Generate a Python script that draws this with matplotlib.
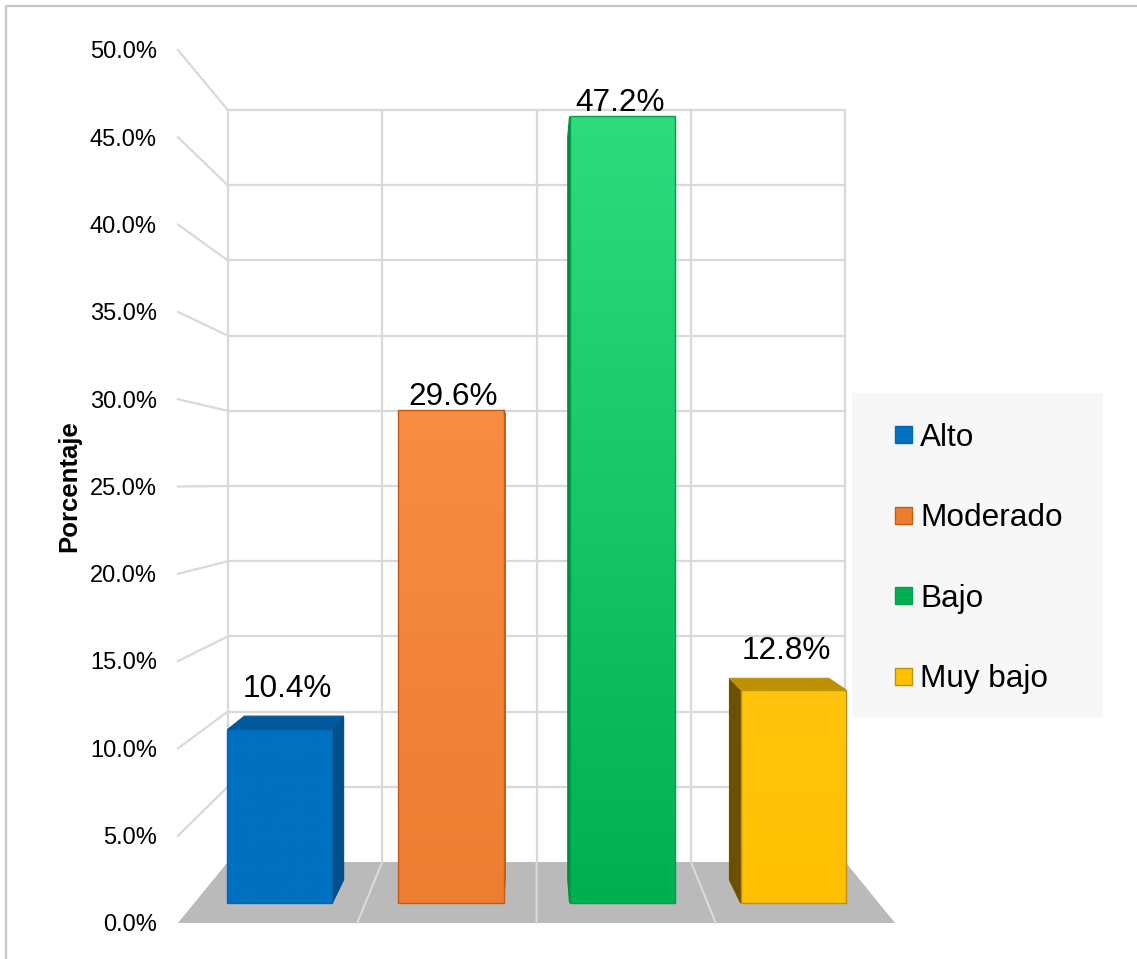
import numpy as np
import matplotlib.pyplot as plt
from matplotlib.patches import Polygon, Rectangle
from matplotlib.colors import to_rgb

categorias = ['Alto', 'Moderado', 'Bajo', 'Muy bajo']
porcentajes = [10.4, 29.6, 47.2, 12.8]
ticks_y = np.arange(0, 50.1, 5)
etiquetas_y = ['%.1f%%' % t for t in ticks_y]

# frente (arriba -> abajo), lado, techo, borde
col_claro = ['#0070C0', '#F78D42', '#2EDC7E', '#FFC40D']
col_base = ['#0070C0', '#ED7D31', '#00B050', '#FFC000']
col_lado = ['#004F88', '#C0621E', '#008A3E', '#6B5000']
col_techo = ['#01589C', '#D06A22', '#009A46', '#BF9000']
col_borde = ['#0068B2', '#C55A11', '#00A046', '#BF9000']

plt.rcParams['font.family'] = ['Liberation Sans', 'DejaVu Sans']

W, H = 1137, 959
fig = plt.figure(figsize=(W / 100, H / 100), dpi=100)
ax = fig.add_axes([0, 0, 1, 1])

# perspectiva sencilla: plano frontal -> pared del fondo
VX, VY = 537.0, 483.0
X0, X1 = 178.0, 895.0
Y0, PX = 923.0, 17.46
K_FONDO = 0.8614
CW = (X1 - X0) / len(categorias)
Z_F, Z_B, HW = 0.328, 0.706, 0.307


def esc(z):
    return 1 - (1 - K_FONDO) * z


def proj(u, v, z):
    xf = X0 + u * CW
    yf = Y0 - PX * v
    s = esc(z)
    return (VX + (xf - VX) * s, VY + (yf - VY) * s)


def cara(pts, color, zo, borde=None, lw=0):
    ax.add_patch(Polygon(pts, closed=True, facecolor=color,
                         edgecolor=borde if borde else color, lw=lw, zorder=zo))


def gradiente(pts, c_arr, c_abj, zo, borde):
    poly = Polygon(pts, closed=True, facecolor='none', edgecolor=borde, lw=1.0, zorder=zo + 0.1)
    ax.add_patch(poly)
    xs, ys = zip(*pts)
    t = np.linspace(0, 1, 256)[:, None]
    img = (np.array(to_rgb(c_arr)) * (1 - t) + np.array(to_rgb(c_abj)) * t)[:, None, :]
    im = ax.imshow(img, extent=(min(xs), max(xs), max(ys), min(ys)),
                   aspect='auto', origin='upper', zorder=zo, interpolation='bilinear')
    im.set_clip_path(poly)


n = len(categorias)
gris = '#D9D9D9'

# pared del fondo
for t in ticks_y[1:]:
    a, b = proj(0, t, 1), proj(n, t, 1)
    ax.plot([a[0], b[0]], [a[1], b[1]], color=gris, lw=1.6, zorder=1)
    f = proj(0, t, 0)
    ax.plot([f[0], a[0]], [f[1], a[1]], color=gris, lw=1.6, zorder=1)
for i in range(n + 1):
    a, b = proj(i, 0, 1), proj(i, ticks_y[-1], 1)
    ax.plot([a[0], b[0]], [a[1], b[1]], color=gris, lw=1.6, zorder=1)

# piso
piso = [proj(0, 0, 0), proj(n, 0, 0), proj(n, 0, 1), proj(0, 0, 1)]
cara(piso, '#BABABA', 2)
for i in range(1, n):
    a, b = proj(i, 0, 1), proj(i, 0, 0)
    ax.plot([a[0], b[0]], [a[1], b[1]], color='#DCDCDC', lw=1.4, zorder=2.5)

# barras
v_ojo = (Y0 - VY) / PX
for i, v in enumerate(porcentajes):
    c = i + 0.5
    zo = 3 + i
    ul, ur = c - HW, c + HW
    if proj(c, 0, Z_F)[0] < VX:
        us = ur
    else:
        us = ul
    lado = [proj(us, 0, Z_F), proj(us, 0, Z_B), proj(us, v, Z_B), proj(us, v, Z_F)]
    cara(lado, col_lado[i], zo, col_lado[i], 0.8)
    if v < v_ojo:
        techo = [proj(ul, v, Z_F), proj(ur, v, Z_F), proj(ur, v, Z_B), proj(ul, v, Z_B)]
        cara(techo, col_techo[i], zo, col_techo[i], 0.8)
    frente = [proj(ul, 0, Z_F), proj(ur, 0, Z_F), proj(ur, v, Z_F), proj(ul, v, Z_F)]
    gradiente(frente, col_claro[i], col_base[i], zo + 0.2, col_borde[i])

    # etiqueta de datos
    lx = proj(c, v, (Z_F + Z_B) / 2)[0]
    if v < v_ojo:
        ly = proj(c, v, Z_B)[1] - 19
    else:
        ly = proj(c, v, Z_F)[1] - 5
    ax.text(lx, ly, '%.1f%%' % v, ha='center', va='baseline', fontsize=22.7,
            color='black', zorder=20)

# etiquetas del eje y
for t, lab in zip(ticks_y, etiquetas_y):
    y = proj(0, t, 0)[1]
    ax.text(157, y + 8.4, lab, ha='right', va='baseline', fontsize=17, color='black')

ax.text(69, 486, 'Porcentaje', rotation=90, ha='center', va='center',
        fontsize=18.5, fontweight='bold', color='black')

# leyenda
ax.add_patch(Rectangle((852, 393), 251, 324, facecolor='#F7F7F7', edgecolor='none', zorder=10))
for i, cat in enumerate(categorias):
    yc = 434.5 + 80.5 * i
    ax.add_patch(Rectangle((895, yc - 8.5), 17, 17, facecolor=col_base[i],
                           edgecolor=col_borde[i], lw=1.0, zorder=11))
    ax.text(920, yc + 11.3, cat, ha='left', va='baseline', fontsize=22.7,
            color='black', zorder=11)

# marco exterior
ax.plot([6, 6, W], [H, 6, 6], color='#C8C8C8', lw=1.6, zorder=30)

ax.set_xlim(0, W)
ax.set_ylim(H, 0)
ax.axis('off')
fig.savefig('out.png', dpi=100, facecolor='white')
